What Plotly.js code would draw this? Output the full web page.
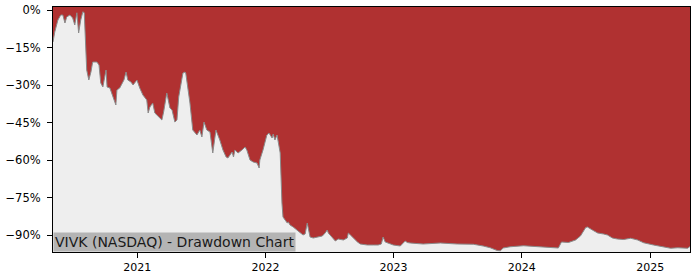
<!DOCTYPE html>
<html>
<head>
<meta charset="utf-8">
<script src="https://cdn.plot.ly/plotly-3.0.1.min.js"></script>
<style>html,body{margin:0;padding:0;background:#fff;}#chart{width:700px;height:280px;}</style>
</head>
<body>
<div id="chart"></div>
<script>
const dates = [
"2020-05-06","2020-05-11","2020-05-20","2020-05-28","2020-06-03","2020-06-09","2020-06-14","2020-06-23","2020-07-01","2020-07-07",
"2020-07-13","2020-07-18","2020-07-24","2020-07-30","2020-08-03","2020-08-07","2020-08-10","2020-08-16","2020-08-22","2020-08-27",
"2020-09-08","2020-09-14","2020-09-19","2020-09-25","2020-10-04","2020-10-07","2020-10-15","2020-10-24","2020-11-01","2020-11-04",
"2020-11-12","2020-11-24","2020-11-30","2020-12-05","2020-12-14","2020-12-20","2020-12-31","2021-01-08","2021-01-17","2021-01-28",
"2021-02-01","2021-02-06","2021-02-14","2021-02-20","2021-03-01","2021-03-12","2021-03-17","2021-03-26","2021-04-04","2021-04-10",
"2021-04-18","2021-04-24","2021-04-29","2021-05-11","2021-05-17","2021-05-19","2021-05-31","2021-06-08","2021-06-20","2021-06-28",
"2021-07-04","2021-07-10","2021-07-18","2021-07-27","2021-08-04","2021-08-13","2021-08-24","2021-09-02","2021-09-11","2021-09-16",
"2021-09-28","2021-10-02","2021-10-06","2021-10-15","2021-10-26","2021-11-04","2021-11-09","2021-11-18","2021-11-27","2021-12-08",
"2021-12-14","2021-12-16","2021-12-25","2022-01-05","2022-01-11","2022-01-20","2022-01-23","2022-01-28","2022-02-03","2022-02-06",
"2022-02-12","2022-02-17","2022-02-20","2022-02-26","2022-03-04","2022-03-07","2022-03-12","2022-03-21","2022-04-01","2022-04-10",
"2022-04-18","2022-04-24","2022-04-30","2022-05-04","2022-05-08","2022-05-17","2022-05-31","2022-06-12","2022-06-20","2022-06-26",
"2022-06-29","2022-07-10","2022-07-19","2022-07-27","2022-08-11","2022-08-22","2022-08-25","2022-08-31","2022-09-08","2022-09-20",
"2022-09-28","2022-10-18","2022-11-04","2022-11-18","2022-11-27","2022-12-02","2022-12-08","2022-12-17","2022-12-31","2023-01-20",
"2023-02-03","2023-02-09","2023-02-17","2023-03-26","2023-05-14","2023-07-01","2023-08-16","2023-09-13","2023-10-03","2023-10-23",
"2023-11-01","2023-11-09","2023-11-29","2024-01-06","2024-02-23","2024-03-23","2024-04-14","2024-04-23","2024-05-13","2024-06-02",
"2024-06-16","2024-07-01","2024-07-06","2024-07-20","2024-08-04","2024-08-21","2024-09-01","2024-09-15","2024-09-29","2024-10-17",
"2024-11-06","2024-11-26","2024-12-13","2025-01-10","2025-02-08","2025-02-28","2025-03-20","2025-04-03","2025-04-17","2025-04-24"
];
const drawdown = [
-12.8,-8.8,-4.0,-2.0,-2.0,-5.2,-2.8,-2.0,-3.2,-6.0,
-1.1,-9.2,-4.0,-0.7,-1.1,-12.0,-24.0,-28.0,-24.8,-20.8,
-20.8,-22.0,-29.2,-30.8,-24.0,-30.8,-31.2,-34.8,-38.0,-32.0,
-31.2,-28.0,-24.8,-28.0,-28.8,-30.0,-28.0,-31.2,-34.0,-36.0,
-41.2,-38.8,-37.2,-41.2,-42.4,-44.0,-40.8,-33.2,-39.2,-40.0,
-44.8,-44.0,-34.8,-25.2,-24.8,-25.2,-37.2,-48.0,-50.0,-48.0,
-50.8,-44.8,-48.0,-48.8,-57.2,-48.0,-52.0,-56.0,-58.8,-59.2,
-56.8,-58.8,-56.0,-57.2,-56.0,-54.8,-56.0,-60.0,-60.8,-61.2,
-63.2,-60.0,-56.0,-50.0,-49.2,-51.2,-49.6,-52.0,-50.0,-52.0,
-57.2,-77.2,-82.8,-84.0,-85.2,-84.8,-86.0,-86.8,-88.0,-89.2,
-90.0,-89.6,-85.2,-88.0,-90.8,-91.2,-90.8,-90.4,-89.2,-88.0,
-89.2,-91.2,-92.4,-91.6,-92.0,-91.2,-89.2,-90.0,-91.2,-92.8,
-93.6,-94.0,-94.0,-94.0,-93.6,-90.8,-92.8,-93.2,-94.0,-94.4,
-92.4,-93.0,-93.2,-93.6,-93.2,-93.6,-93.7,-94.4,-95.1,-96.2,
-96.3,-95.2,-94.7,-94.3,-94.7,-95.2,-95.2,-92.8,-93.0,-92.0,
-90.4,-87.0,-86.8,-88.0,-89.2,-89.6,-90.0,-91.2,-91.6,-91.8,
-91.3,-92.0,-93.1,-94.0,-94.7,-95.3,-95.1,-95.3,-95.3,-94.6
];
const yTicks = [0, -15, -30, -45, -60, -75, -90];
const xTickVals = ["2021-01-01","2022-01-01","2023-01-01","2024-01-01","2025-01-01"];
const xTickText = ["2021","2022","2023","2024","2025"];
const chartLabel = "VIVK (NASDAQ) - Drawdown Chart";

const yRange = [-96.8, 1.2];
const xRange = ["2020-05-06", "2025-04-24"];
const baseline = dates.map(() => yRange[0]);

const traces = [
  {x: dates, y: baseline, type: 'scatter', mode: 'lines', line: {width: 0, color: 'rgba(0,0,0,0)'}, hoverinfo: 'skip', showlegend: false},
  {x: dates, y: drawdown, type: 'scatter', mode: 'lines', fill: 'tonexty', fillcolor: '#eeeeee',
   line: {color: '#8a8a8a', width: 1}, hoverinfo: 'skip', showlegend: false}
];

const layout = {
  width: 700, height: 280,
  margin: {l: 53, r: 10, t: 7, b: 28, pad: 0},
  paper_bgcolor: '#ffffff',
  plot_bgcolor: '#b03131',
  font: {family: 'DejaVu Sans', size: 11, color: '#000'},
  showlegend: false,
  xaxis: {
    type: 'date', range: xRange, tickvals: xTickVals, ticktext: xTickText,
    showgrid: false, zeroline: false, showline: true, mirror: true, linecolor: '#000', linewidth: 1,
    ticks: 'outside', ticklen: 5, tickcolor: '#000', tickfont: {family: 'DejaVu Sans', size: 11, color: '#000'}
  },
  yaxis: {
    range: yRange, tickvals: yTicks, ticktext: yTicks.map(v => (v < 0 ? '\u2212' + Math.abs(v) : v) + '%'),
    showgrid: false, zeroline: false, showline: true, mirror: true, linecolor: '#000', linewidth: 1,
    ticks: 'outside', ticklen: 5, tickcolor: '#000', ticklabelstandoff: 4,
    tickfont: {family: 'DejaVu Sans', size: 11.5, color: '#000'}
  },
  annotations: [{
    text: chartLabel, xref: 'paper', yref: 'paper', x: 0, y: 0, xanchor: 'left', yanchor: 'bottom',
    showarrow: false, bgcolor: '#b4b4b4', borderpad: 1,
    font: {family: 'DejaVu Sans', size: 14, color: '#1a1a1a'}
  }]
};

Plotly.newPlot('chart', traces, layout, {displayModeBar: false, staticPlot: true});
</script>
</body>
</html>
